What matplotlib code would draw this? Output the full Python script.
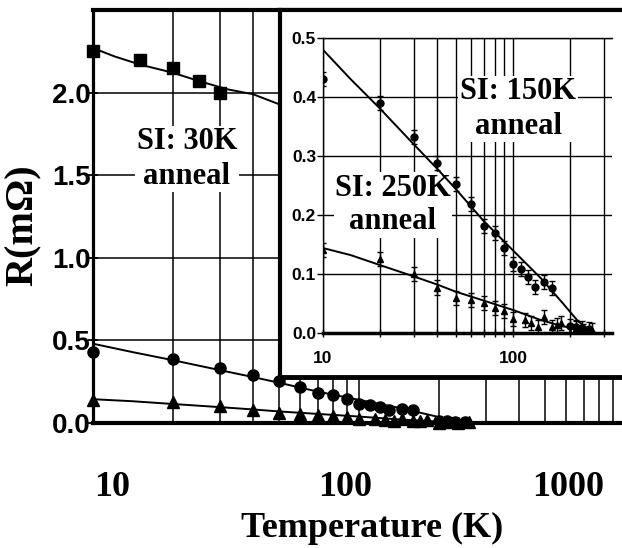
"""
Resistance vs temperature after different isothermal anneals (main plot + inset).
"""

import matplotlib
matplotlib.use("Agg")
import matplotlib.pyplot as plt
from matplotlib.ticker import LogLocator, NullFormatter, FixedLocator

# --- DATA ---
# SI: 30K anneal (squares, main plot only)
sq_T = [10, 15, 20, 25, 30]
sq_R = [2.25, 2.20, 2.15, 2.07, 2.00]
sq_fit_T = [10, 12, 15, 20, 25, 32, 40, 50, 60]
sq_fit_R = [2.27, 2.22, 2.17, 2.12, 2.07, 2.02, 1.99, 1.93, 1.90]

# SI: 150K anneal (circles)
circ_T = [10, 20, 30, 40, 50, 60, 70, 80, 90, 100, 110, 120, 130, 145, 160,
          200, 215, 230, 250]
circ_R = [0.43, 0.39, 0.332, 0.288, 0.252, 0.219, 0.181, 0.17, 0.144, 0.117,
          0.108, 0.095, 0.078, 0.086, 0.076, 0.012, 0.010, 0.008, 0.006]
circ_err = [0.012] * len(circ_T)

# SI: 250K anneal (triangles)
tri_T = [10, 20, 30, 40, 50, 60, 70, 80, 90, 100, 115, 125, 135, 145, 160,
         170, 180, 200, 215, 235, 260]
tri_R = [0.14, 0.125, 0.10, 0.077, 0.06, 0.056, 0.051, 0.043, 0.038, 0.024,
         0.022, 0.017, 0.010, 0.027, 0.010, 0.013, 0.017, 0.0, 0.008, 0.003,
         0.005]
tri_err = [0.012] * len(tri_T)

# fitted curves
fit_T = [10, 14, 20, 30, 40, 50, 70, 100, 140, 180, 220, 265]
circ_fit = [0.48, 0.43, 0.38, 0.32, 0.278, 0.244, 0.19, 0.14, 0.093, 0.053,
            0.02, 0.0]
tri_fit = [0.144, 0.132, 0.115, 0.096, 0.082, 0.07, 0.055, 0.039, 0.022,
           0.012, 0.006, 0.0]

main_yticks = [0.0, 0.5, 1.0, 1.5, 2.0]
main_xlabels = ["10", "100", "1000"]
inset_yticks = [0.0, 0.1, 0.2, 0.3, 0.4, 0.5]

SERIF = "Liberation Serif"
SANS = "Liberation Sans"
W, H = 622, 548

fig = plt.figure(figsize=(W / 100, H / 100), dpi=100)

# --- MAIN PLOT ---
ax = fig.add_axes([93 / W, 1 - 423 / H, 529 / W, 413 / H])
ax.set_xscale("log")
ax.set_xlim(10, 975)
ax.set_ylim(0, 2.5)
ax.xaxis.set_major_locator(FixedLocator([10, 100, 1000]))
ax.xaxis.set_minor_locator(LogLocator(base=10, subs=range(2, 10)))
ax.xaxis.set_major_formatter(NullFormatter())
ax.xaxis.set_minor_formatter(NullFormatter())
ax.tick_params(axis="x", which="both", length=0)
ax.set_yticks(main_yticks)
ax.set_yticklabels([f"{v:.1f}" for v in main_yticks], fontfamily=SANS,
                   fontweight="bold", fontsize=20)
ax.tick_params(axis="y", direction="inout", length=7, width=1.3, pad=-2)
ax.grid(True, which="both", axis="x", color="black", linewidth=1.1)
ax.grid(True, which="major", axis="y", color="black", linewidth=1.1)
ax.set_axisbelow(True)
ax.spines["right"].set_visible(False)
ax.spines["left"].set_linewidth(2.3)
ax.spines["bottom"].set_linewidth(3)
ax.spines["top"].set_linewidth(3)

ax.plot(sq_fit_T, sq_fit_R, color="black", linewidth=1.4)
ax.plot(fit_T, circ_fit, color="black", linewidth=1.4)
ax.plot(fit_T, tri_fit, color="black", linewidth=1.4)
ax.plot(sq_T, sq_R, "s", color="black", markersize=8, clip_on=False)
ax.plot(circ_T, circ_R, "o", color="black", markersize=8, clip_on=False)
ax.plot(tri_T, tri_R, "^", color="black", markersize=8, clip_on=False)

ax.text(187 / W, 1 - 159 / H, "SI: 30K\nanneal", transform=fig.transFigure,
        fontfamily=SERIF, fontweight="bold", fontsize=22, ha="center",
        va="center", linespacing=1.25, zorder=1,
        bbox=dict(facecolor="white", edgecolor="none", pad=1))

for lbl, px in zip(main_xlabels, [112, 345, 568]):
    fig.text(px / W, 1 - 487 / H, lbl, fontfamily=SERIF, fontweight="bold",
             fontsize=26, ha="center", va="center")
fig.text(372 / W, 1 - 528 / H, "Temperature (K)", fontfamily=SERIF,
         fontweight="bold", fontsize=26, ha="center", va="center")
fig.text(23 / W, 1 - 225 / H, "R(m\u03a9)", fontfamily=SERIF,
         fontweight="bold", fontsize=29, ha="center", va="center",
         rotation=90)

# --- INSET FRAME ---
frame = fig.add_axes([280 / W, 1 - 377 / H, 400 / W, 367 / H], zorder=5)
frame.set_xticks([])
frame.set_yticks([])
frame.set_facecolor("white")
frame.spines["right"].set_visible(False)
frame.spines["left"].set_linewidth(3)
frame.spines["bottom"].set_linewidth(3.5)
frame.spines["top"].set_linewidth(3)

# --- INSET ---
ins = fig.add_axes([323 / W, 1 - 333 / H, 289 / W, 295 / H], zorder=6)
ins.set_facecolor("none")
ins.set_xscale("log")
ins.set_xlim(10, 332)
ins.set_ylim(0, 0.5)
ins.xaxis.set_major_locator(FixedLocator([10, 100]))
ins.xaxis.set_minor_locator(LogLocator(base=10, subs=range(2, 10)))
ins.xaxis.set_minor_formatter(NullFormatter())
ins.set_xticklabels(["10", "100"], fontfamily=SANS, fontweight="bold",
                    fontsize=12.5)
ins.set_yticks(inset_yticks)
ins.set_yticklabels([f"{v:.1f}" for v in inset_yticks], fontfamily=SANS,
                    fontweight="bold", fontsize=12.5)
ins.tick_params(axis="x", which="both", direction="inout", length=6,
                width=1, pad=10)
ins.tick_params(axis="y", direction="out", length=4, width=1, pad=1)
ins.grid(True, which="both", axis="x", color="black", linewidth=1)
ins.grid(True, which="major", axis="y", color="black", linewidth=1)
ins.set_axisbelow(True)
ins.spines["right"].set_visible(False)
ins.spines["top"].set_linewidth(1)
ins.spines["left"].set_linewidth(1)
ins.spines["bottom"].set_linewidth(2.5)

ins.plot(fit_T, circ_fit, color="black", linewidth=1.4, zorder=3)
ins.plot(fit_T, tri_fit, color="black", linewidth=1.4, zorder=3)
ins.errorbar(circ_T, circ_R, yerr=circ_err, fmt="o", color="black",
             markersize=5, capsize=2.5, elinewidth=1, zorder=4)
ins.errorbar(tri_T, tri_R, yerr=tri_err, fmt="^", color="black",
             markersize=5, capsize=2.5, elinewidth=1, zorder=4)

ins.text(518 / W, 1 - 109 / H, "SI: 150K\nanneal", transform=fig.transFigure,
         fontfamily=SERIF, fontweight="bold", fontsize=22, ha="center",
         va="center", linespacing=1.25, zorder=2,
         bbox=dict(facecolor="white", edgecolor="none", pad=1))
ins.text(393 / W, 1 - 205 / H, "SI: 250K\nanneal", transform=fig.transFigure,
         fontfamily=SERIF, fontweight="bold", fontsize=22, ha="center",
         va="center", linespacing=1.2, zorder=2,
         bbox=dict(facecolor="white", edgecolor="none", pad=1))

fig.savefig("out.png", dpi=100)
